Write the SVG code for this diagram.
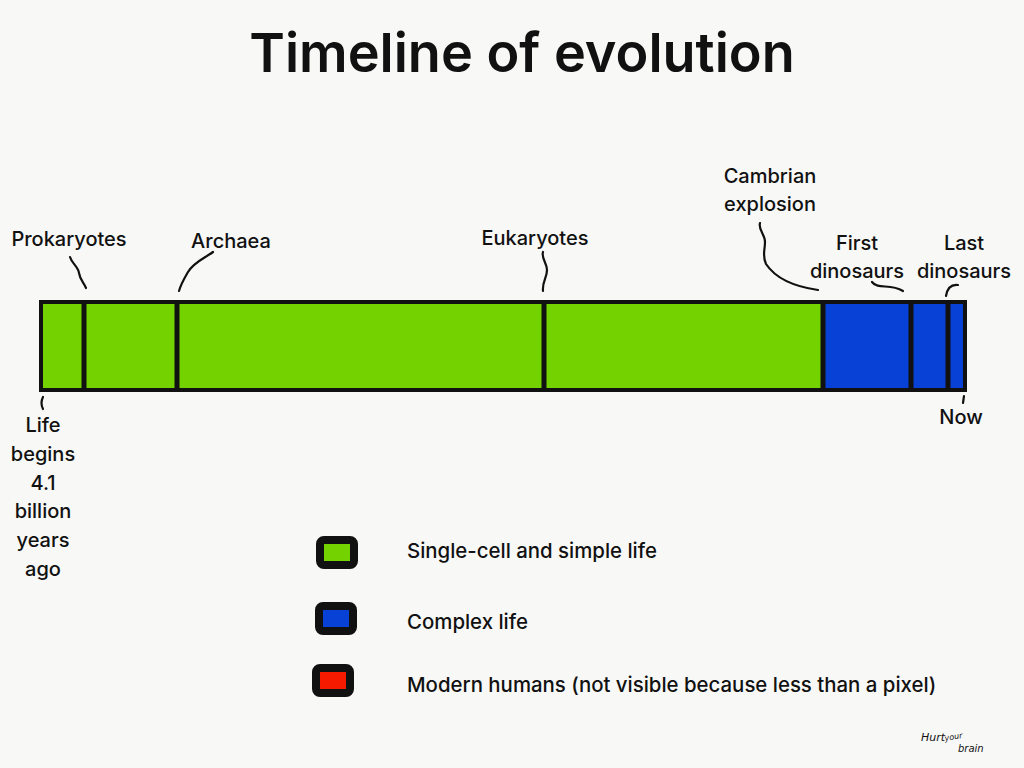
<svg xmlns="http://www.w3.org/2000/svg" width="1024" height="768" viewBox="0 0 1024 768">
<style>
.t{font-family:Inter,"Noto Sans","Liberation Sans",sans-serif;font-size:20px;font-weight:500;fill:#111;text-anchor:middle}
.lg{font-family:Inter,"Noto Sans","Liberation Sans",sans-serif;font-size:20.4px;font-weight:500;fill:#111}
.c{fill:none;stroke:#111;stroke-width:2.2;stroke-linecap:round}
.div{stroke:#111;stroke-width:5}
.box{stroke:#111;stroke-width:8}
</style>
<rect width="1024" height="768" fill="#f8f8f6"/>
<text x="522" y="72" style="font-family:Inter,'Noto Sans','Liberation Sans',sans-serif;font-size:54px;font-weight:600;fill:#111;text-anchor:middle">Timeline of evolution</text>
<g id="bar">
<rect x="41" y="302" width="782" height="88" fill="#74d200"/>
<rect x="823" y="302" width="142" height="88" fill="#0841d6"/>
<rect x="41" y="302" width="924" height="88" fill="none" stroke="#111" stroke-width="4"/>
<line class="div" x1="84" y1="302" x2="84" y2="390"/>
<line class="div" x1="177" y1="302" x2="177" y2="390"/>
<line class="div" x1="544" y1="302" x2="544" y2="390"/>
<line class="div" x1="823" y1="302" x2="823" y2="390"/>
<line class="div" x1="911" y1="302" x2="911" y2="390"/>
<line class="div" x1="948" y1="302" x2="948" y2="390"/>
</g>
<g id="connectors">
<path class="c" d="M70 257 C72 264 78 266 79 273 C80 280 84 283 86 288"/>
<path class="c" d="M213 252 C205 258 194 262 188 272 C184 279 181 284 179 291"/>
<path class="c" d="M543 252 C541 258 547 263 547 270 C547 278 542 282 543 291"/>
<path class="c" d="M760 223 C758 230 765 234 765 242 C765 250 762 256 766 264 C774 276 790 286 818 290"/>
<path class="c" d="M872 282 C878 290 890 283 903 291"/>
<path class="c" d="M958 285 C950 284 947 290 946 296"/>
<path class="c" d="M43 397 C41 401 41 405 43 409"/>
<path class="c" d="M964 396 L963 403"/>
</g>
<g id="prokaryotes"><text class="t" x="69" y="246">Prokaryotes</text></g>
<g id="archaea"><text class="t" x="231" y="248">Archaea</text></g>
<g id="eukaryotes"><text class="t" x="535" y="245">Eukaryotes</text></g>
<g id="cambrian"><text class="t" x="770" y="183">Cambrian</text><text class="t" x="770" y="211">explosion</text></g>
<g id="first-dinosaurs"><text class="t" x="857" y="250">First</text><text class="t" x="857" y="278">dinosaurs</text></g>
<g id="last-dinosaurs"><text class="t" x="964" y="250">Last</text><text class="t" x="964" y="278">dinosaurs</text></g>
<g id="now"><text class="t" x="961" y="424">Now</text></g>
<g id="life-begins">
<text class="t" x="43" y="432">Life</text>
<text class="t" x="43" y="461">begins</text>
<text class="t" x="43" y="490">4.1</text>
<text class="t" x="43" y="518">billion</text>
<text class="t" x="43" y="547">years</text>
<text class="t" x="43" y="576">ago</text>
</g>
<g id="legend">
<rect class="box" x="320" y="540" width="34" height="25" rx="4" fill="#74d200"/>
<rect class="box" x="319" y="606" width="34" height="25" rx="4" fill="#0841d6"/>
<rect class="box" x="316" y="668" width="34" height="25" rx="4" fill="#f51a00"/>
<text class="lg" x="407" y="558">Single-cell and simple life</text>
<text class="lg" x="407" y="629">Complex life</text>
<text class="lg" x="407" y="692">Modern humans (not visible because less than a pixel)</text>
</g>
<g id="signature" style="font-family:'DejaVu Sans',sans-serif;font-style:italic;fill:#111">
<text x="921" y="741" font-size="11">Hurt</text>
<text x="945" y="741" font-size="8" transform="rotate(-10 945 741)">your</text>
<text x="958" y="752" font-size="10">brain</text>
</g>
</svg>
